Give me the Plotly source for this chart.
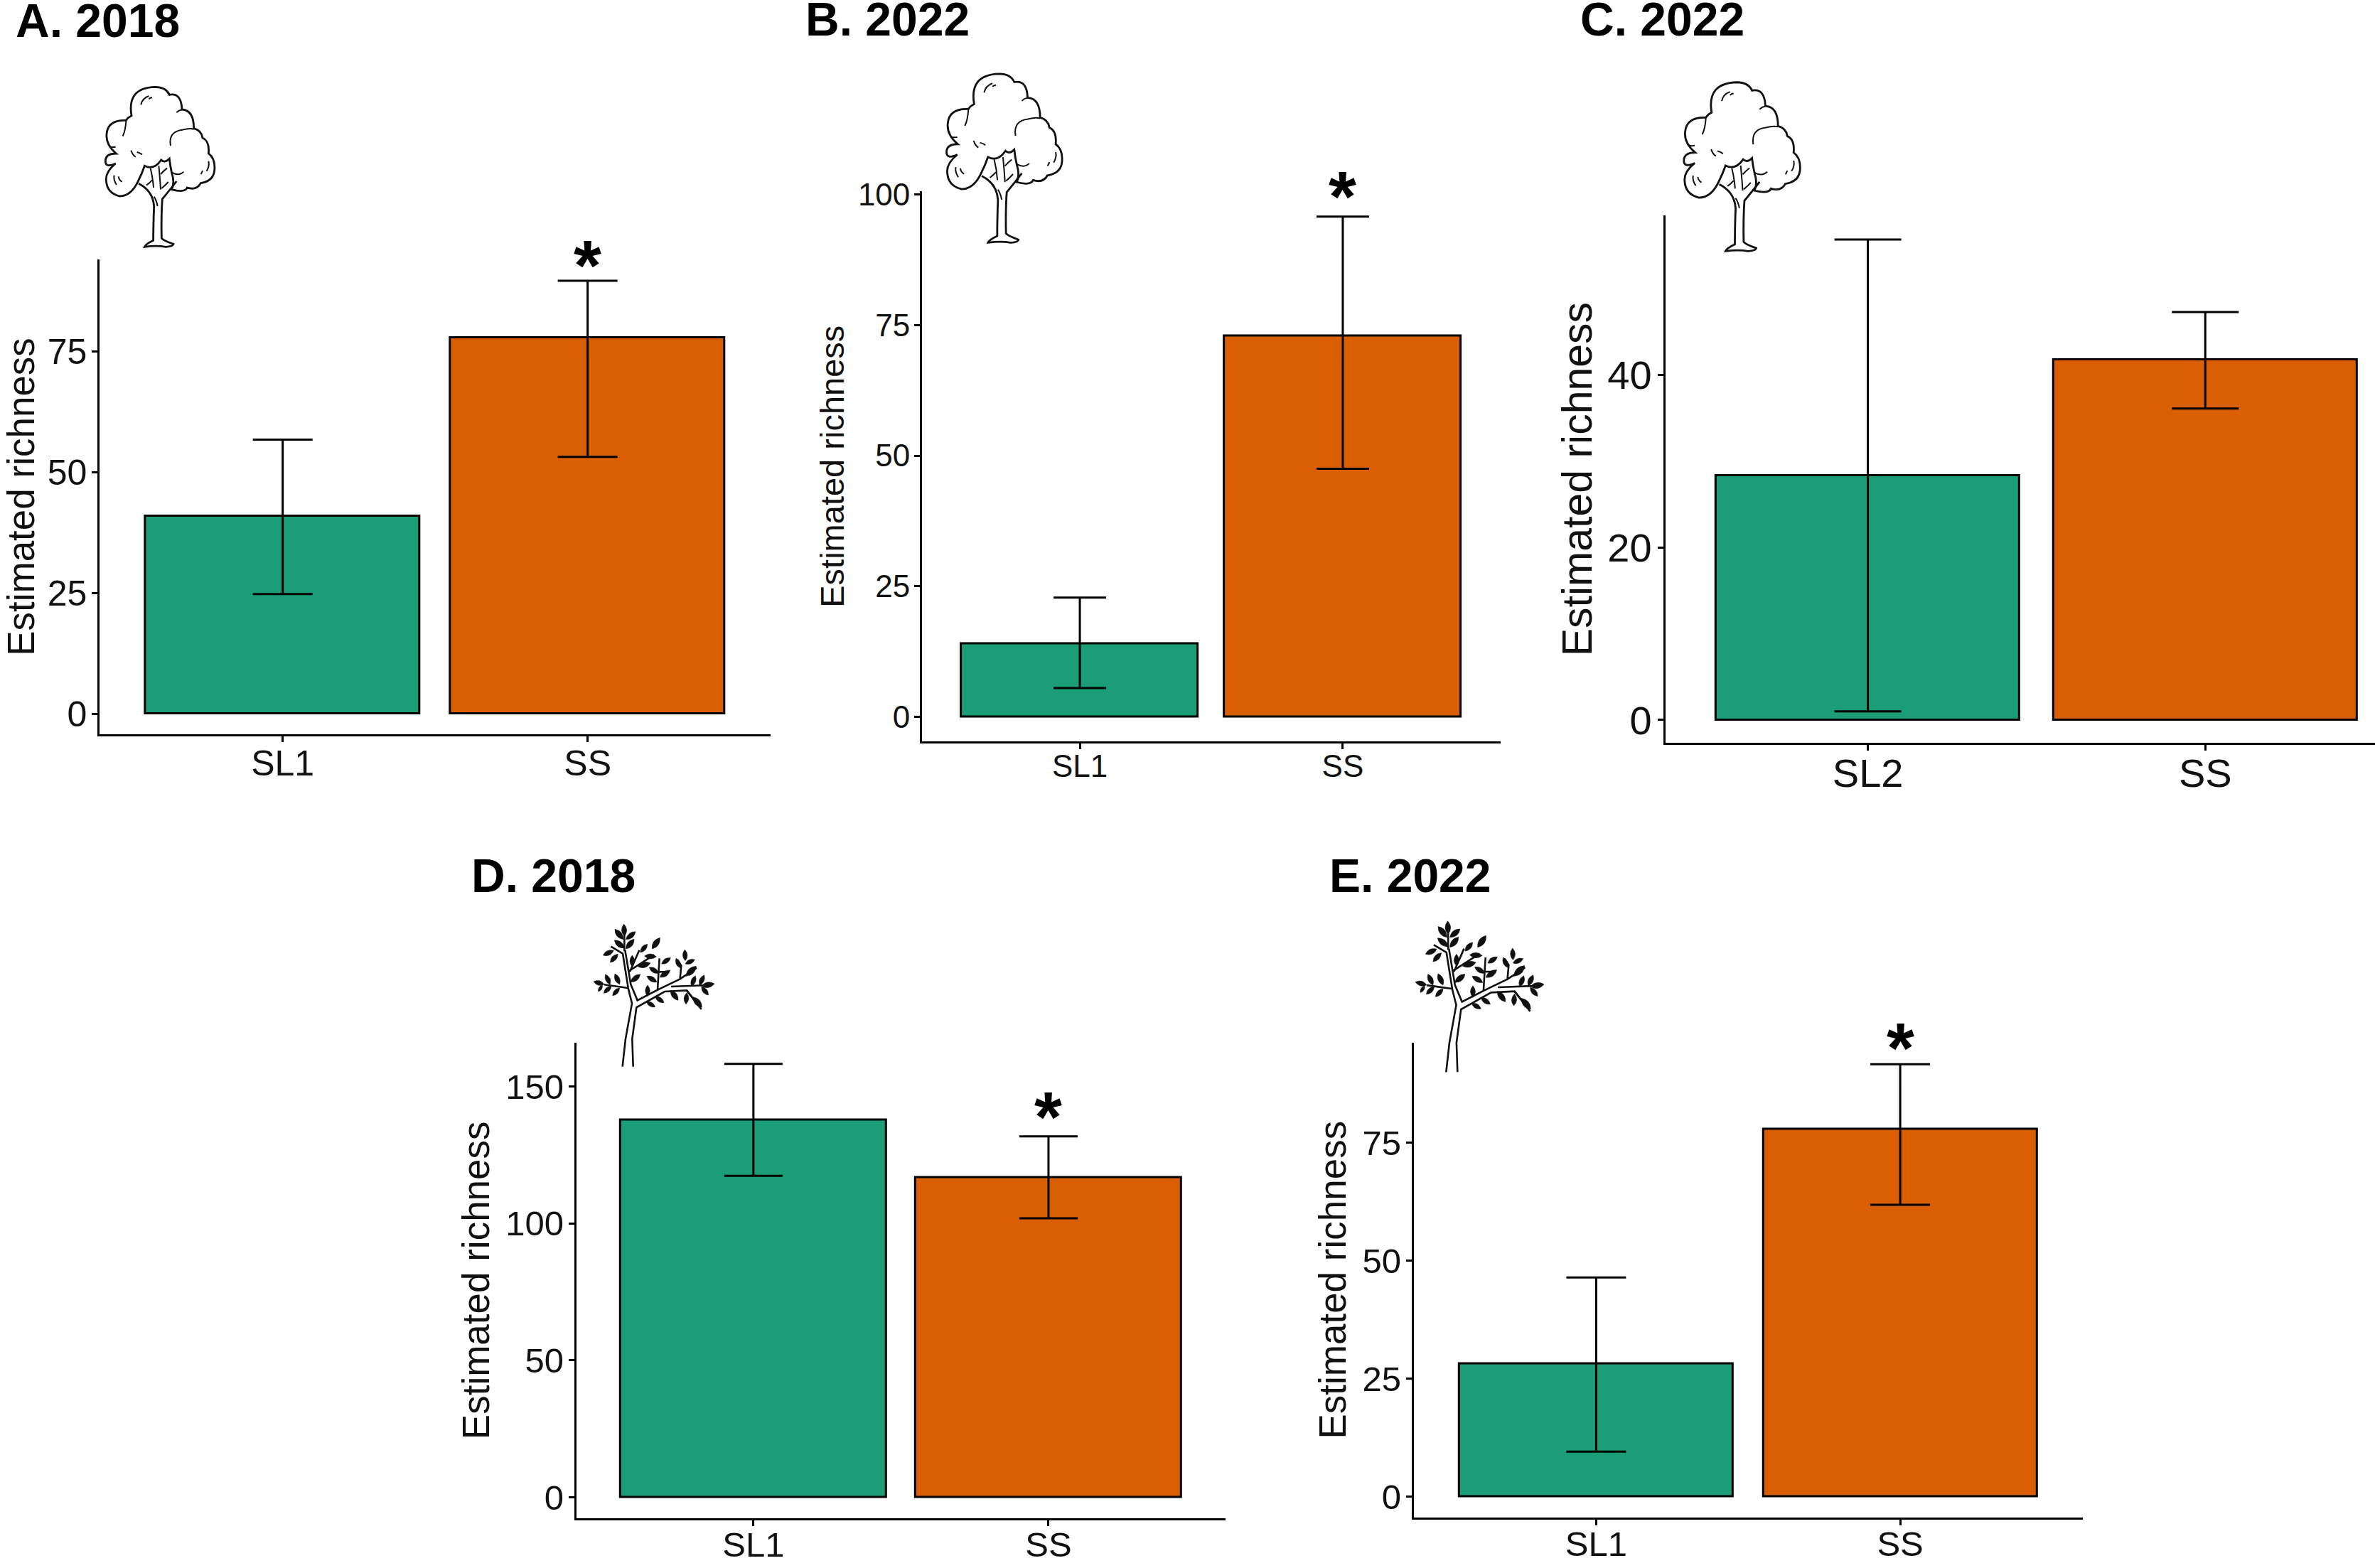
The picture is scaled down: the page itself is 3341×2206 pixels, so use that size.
import plotly.graph_objects as go

W, H = 3341, 2206
FONT = "Liberation Sans"
GREEN, ORANGE = "#1B9E77", "#D95F02"

# ---- data ----
titles = ["A. 2018", "B. 2022", "C. 2022", "D. 2018", "E. 2022"]
categories_a = ["SL1", "SS"]
categories_b = ["SL1", "SS"]
categories_c = ["SL2", "SS"]
categories_d = ["SL1", "SS"]
categories_e = ["SL1", "SS"]
values_a = [41.0, 77.9]
values_b = [14.0, 73.0]
values_c = [28.3, 41.8]
values_d = [137.9, 116.9]
values_e = [28.2, 77.9]
upper_a = [56.8, 89.7]
upper_b = [22.8, 95.8]
upper_c = [55.7, 47.3]
upper_d = [158.3, 131.8]
upper_e = [46.4, 91.6]
lower_a = [24.8, 53.2]
lower_b = [5.5, 47.5]
lower_c = [1.0, 36.1]
lower_d = [117.4, 101.9]
lower_e = [9.5, 61.8]
ticks_a = [0, 25, 50, 75]
ticks_b = [0, 25, 50, 75, 100]
ticks_c = [0, 20, 40]
ticks_d = [0, 50, 100, 150]
ticks_e = [0, 25, 50, 75]
y_title = "Estimated richness"

# ---- layout of each panel, in pixels ----
panels = [
    dict(cats=categories_a, v=values_a, hi=upper_a, lo=lower_a, ticks=ticks_a,
         box=(140.3, 1084.0, 365.0, 1033.0), xr=(-0.6, 1.6), yr=(-4.23, 94.1),
         cap=42, tf=50, yf=53, stand=12, xsoff=-13, title=(20, 52), star=(1, 349)),
    dict(cats=categories_b, v=values_b, hi=upper_b, lo=lower_b, ticks=ticks_b,
         box=(1297.1, 2110.9, 269.4, 1043.0), xr=(-0.6, 1.6), yr=(-4.72, 100.6),
         cap=37, tf=44, yf=47, stand=5, xsoff=-14, title=(1131, 50), star=(1, 252)),
    dict(cats=categories_c, v=values_c, hi=upper_c, lo=lower_c, ticks=ticks_c,
         box=(2342.8, 3341.0, 303.0, 1045.2), xr=(-0.6, 1.503), yr=(-2.66, 58.5),
         cap=47, tf=56, yf=59, stand=3, xsoff=-16, title=(2221, 50), star=None),
    dict(cats=categories_d, v=values_d, hi=upper_d, lo=lower_d, ticks=ticks_d,
         box=(810.8, 1724.0, 1466.6, 2136.0), xr=(-0.6, 1.6), yr=(-7.64, 166.1),
         cap=41, tf=49, yf=53, stand=6, xsoff=-16, title=(660.5, 1255), star=(1, 1547)),
    dict(cats=categories_e, v=values_e, hi=upper_e, lo=lower_e, ticks=ticks_e,
         box=(1988.8, 2929.7, 1466.6, 2134.8), xr=(-0.6, 1.6), yr=(-4.43, 96.2),
         cap=42, tf=49, yf=53, stand=6, xsoff=-16, title=(1868, 1255), star=(1, 1450)),
]
LW = 3


def px(x):
    return x / W


def py(y):
    return 1 - y / H


fig = go.Figure()
layout = dict(width=W, height=H, margin=dict(l=0, r=0, t=0, b=0, pad=0, autoexpand=False),
              paper_bgcolor="white", plot_bgcolor="white", showlegend=False,
              font=dict(family=FONT, color="black"), barmode="overlay", bargap=0)
annotations = []

for i, p in enumerate(panels):
    suffix = "" if i == 0 else str(i + 1)
    x0, x1, y0, y1 = p["box"]
    up = [h - v for h, v in zip(p["hi"], p["v"])]
    dn = [v - l for v, l in zip(p["v"], p["lo"])]
    fig.add_trace(go.Bar(
        x=p["cats"], y=p["v"], width=0.9, xaxis="x" + suffix, yaxis="y" + suffix,
        marker=dict(color=[GREEN, ORANGE], line=dict(color="black", width=LW)),
        error_y=dict(type="data", symmetric=False, array=up, arrayminus=dn,
                     color="black", thickness=LW, width=p["cap"]),
    ))
    common = dict(showline=True, linecolor="black", linewidth=LW, showgrid=False, zeroline=False,
                  ticks="outside", ticklen=8, tickwidth=LW, tickcolor="black",
                  tickfont=dict(family=FONT, size=p["tf"], color="#111111"))
    layout["xaxis" + suffix] = dict(
        common, domain=[px(x0), px(x1)], range=list(p["xr"]), type="category",
        anchor="y" + suffix, categoryorder="array", categoryarray=p["cats"],
        ticklabelstandoff=p["xsoff"])
    layout["yaxis" + suffix] = dict(
        common, domain=[py(y1), py(y0)], range=list(p["yr"]), anchor="x" + suffix,
        tickmode="array", tickvals=p["ticks"], ticktext=[str(t) for t in p["ticks"]],
        ticklabelstandoff=-3,
        title=dict(text=y_title, font=dict(family=FONT, size=p["yf"], color="#111111"),
                   standoff=p["stand"]))
    tx, ty = p["title"]
    annotations.append(dict(text="<b>%s</b>" % titles[i], x=px(tx), y=py(ty - 23), xref="paper", yref="paper",
                            xanchor="left", yanchor="middle", showarrow=False,
                            font=dict(family=FONT, size=66, color="black")))
    if p["star"]:
        cat, sy = p["star"]
        annotations.append(dict(text="<b>*</b>", x=p["cats"][cat], y=py(sy + 24), xref="x" + suffix, yref="paper",
                                xanchor="center", yanchor="middle", showarrow=False,
                                font=dict(family=FONT, size=100, color="black")))


# ---- decorative tree icons, drawn in each icon's own local units ----
def transform(points, ox, oy, sx, sy):
    return [(px(ox + a * sx), py(oy + b * sy)) for a, b in points]


def curve_path(points, ox, oy, sx, sy, close=False):
    """points: start, then (ctrl, end) pairs as flat list -> quadratic chain"""
    q = transform(points, ox, oy, sx, sy)
    s = "M %.5f %.5f" % q[0]
    for c, e in zip(q[1::2], q[2::2]):
        s += " Q %.5f %.5f %.5f %.5f" % (c + e)
    return s + (" Z" if close else "")


def poly_path(points, ox, oy, sx, sy):
    q = transform(points, ox, oy, sx, sy)
    return "M %.5f %.5f" % q[0] + "".join(" L %.5f %.5f" % t for t in q[1:])


crown = [(225, 490), (195, 558), (145, 558), (90, 545), (88, 490), (85, 455), (128, 420),
         (85, 440), (85, 410), (85, 378), (130, 378), (85, 340), (90, 295), (95, 235), (172, 238),
         (180, 225), (195, 218), (175, 100), (295, 97), (340, 97), (355, 130),
         (405, 120), (408, 192), (458, 195), (458, 272), (490, 280), (495, 312),
         (525, 325), (520, 378), (550, 400), (545, 450), (540, 495), (487, 503),
         (470, 535), (430, 522), (420, 545), (365, 530), (378, 500), (365, 460),
         (358, 430), (355, 400), (335, 420), (320, 405), (290, 450), (250, 430),
         (240, 460), (225, 490)]
trunk = [(225, 505), (285, 535), (290, 600), (287, 680), (287, 745), (255, 760), (250, 772),
         (300, 765), (340, 772), (372, 770), (372, 760), (330, 745), (322, 735), (320, 640), (325, 570),
         (350, 540), (385, 495)]
tree_lines = [
    [(360, 345), (350, 285), (410, 278), (440, 270), (458, 275)],
    [(158, 305), (170, 280), (172, 240)],
    [(275, 440), (285, 480), (288, 522)],
    [(310, 430), (315, 480), (318, 530)],
    [(365, 458), (395, 475), (415, 455)],
    [(193, 365), (200, 385), (212, 392)],
    [(218, 372), (230, 375), (240, 382)],
    [(122, 470), (118, 490), (132, 510)],
    [(140, 475), (142, 490), (155, 497)],
    [(235, 172), (240, 145), (268, 135)],
    [(268, 148), (275, 142), (282, 142)],
    [(520, 410), (525, 430), (512, 452)],
    [(495, 450), (492, 458), (488, 465)],
    [(385, 205), (395, 195), (408, 193)],
    [(105, 350), (118, 352), (128, 350)],
    [(258, 512), (272, 502), (282, 490)],
    [(322, 525), (338, 512), (350, 498)],
    [(318, 465), (332, 450), (345, 440)],
    [(290, 560), (300, 575), (305, 600)],
]
big_trees = [(120, 90, 1 / 3, 1 / 3), (1301.5, 69.7, 0.353, 0.352), (2338.6, 81.6, 0.355, 0.352)]

small_branches = [
    [(197, 662), (210, 545), (237, 395), (222, 335), (198, 185), (148, 155)],
    [(242, 662), (238, 545), (256, 412), (375, 345), (468, 340), (498, 378)],
    [(208, 170), (232, 315), (260, 382), (345, 338), (353, 205)],
    [(345, 338), (440, 292), (510, 245)],
    [(402, 324), (560, 318)],
    [(440, 290), (445, 235), (428, 210)],
    [(120, 316), (220, 330)],
    [(228, 262), (268, 170)],
    [(225, 258), (330, 190)],
    [(205, 175), (205, 70)],
    [(352, 262), (392, 262)],
    [(468, 340), (530, 420)],
]
small_leaves = [
    ((203, 60), (205, 112)), ((165, 82), (200, 125)), ((252, 92), (212, 125)),
    ((163, 128), (205, 162)), ((246, 124), (212, 165)), ((115, 192), (160, 172)),
    ((145, 222), (178, 187)), ((355, 118), (322, 165)), ((302, 145), (272, 180)),
    ((238, 192), (238, 240)), ((340, 198), (290, 195)), ((315, 225), (262, 240)),
    ((400, 203), (362, 228)), ((310, 243), (350, 268)), ((398, 255), (355, 285)),
    ((300, 280), (342, 305)), ((272, 272), (232, 305)), ((460, 168), (462, 215)),
    ((423, 205), (440, 245)), ((502, 210), (462, 228)), ((508, 238), (465, 280)),
    ((303, 318), (303, 365)), ((75, 303), (120, 315)), ((125, 272), (145, 315)),
    ((165, 270), (185, 315)), ((95, 345), (112, 318)), ((118, 352), (150, 322)),
    ((155, 362), (185, 330)), ((372, 392), (335, 365)), ((335, 410), (298, 388)),
    ((432, 382), (400, 340)), ((465, 398), (468, 350)), ((532, 412), (495, 368)),
    ((505, 278), (488, 322)), ((542, 275), (522, 318)), ((585, 312), (530, 322)),
    ((560, 360), (530, 325)),
]
small_trees = [(810, 1280, 1 / 3, 1 / 3), (1964.4, 1274.6, 0.355, 0.353)]

shapes = []
for ox, oy, sx, sy in big_trees:
    shapes.append(dict(type="path", xref="paper", yref="paper", path=curve_path(crown, ox, oy, sx, sy, True),
                       fillcolor="white", line=dict(color="#111111", width=2.8)))
    shapes.append(dict(type="path", xref="paper", yref="paper", path=curve_path(trunk, ox, oy, sx, sy),
                       line=dict(color="#111111", width=2.8)))
    for seg in tree_lines:
        shapes.append(dict(type="path", xref="paper", yref="paper", path=curve_path(seg, ox, oy, sx, sy),
                           line=dict(color="#111111", width=2)))

for ox, oy, sx, sy in small_trees:
    for seg in small_branches:
        shapes.append(dict(type="path", xref="paper", yref="paper", path=poly_path(seg, ox, oy, sx, sy),
                           line=dict(color="#111111", width=2.6)))
    for (tx, ty), (bx, by) in small_leaves:
        dx, dy = tx - bx, ty - by
        mx, my = (tx + bx) / 2, (ty + by) / 2
        w = 0.42
        c1 = (mx - dy * w, my + dx * w)
        c2 = (mx + dy * w, my - dx * w)
        shapes.append(dict(type="path", xref="paper", yref="paper",
                           path=curve_path([(bx, by), c1, (tx, ty), c2, (bx, by)], ox, oy, sx, sy, True),
                           fillcolor="#111111", line=dict(color="#111111", width=0.5)))

layout["shapes"] = shapes
layout["annotations"] = annotations
fig.update_layout(**layout)
fig.write_html("out.html", config=dict(displayModeBar=False),
               post_script="document.body.style.margin='0';document.documentElement.style.overflow='hidden';")
